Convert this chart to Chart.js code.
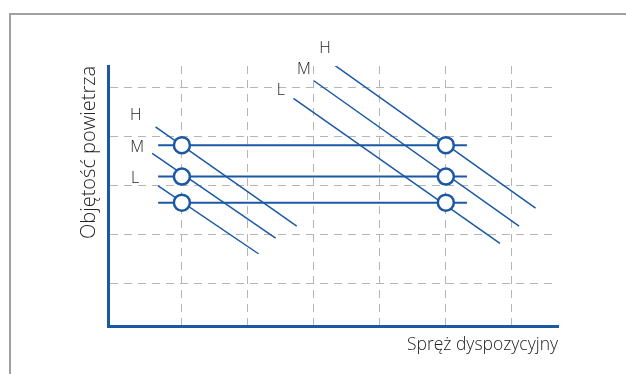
<!DOCTYPE html>
<html lang="pl">
<head>
<meta charset="utf-8">
<title>Objętość powietrza / Spręż dyspozycyjny</title>
<script src="https://cdn.jsdelivr.net/npm/chart.js@4.4.1/dist/chart.umd.min.js"></script>
<style>
    body { margin: 0; background: #fff; overflow: hidden; }
    #wrap { position: relative; width: 626px; height: 374px; }
    #ramka {
        position: absolute; left: 9px; top: 13px; width: 700px; height: 400px;
        border-top: 2px solid #a0a0a0; border-left: 2px solid #a0a0a0;
    }
    #wykres { position: absolute; left: 0; top: 0; }
</style>
</head>
<body>
<div id="wrap">
    <div id="ramka"></div>
    <canvas id="wykres" width="626" height="374"></canvas>
</div>
<script>
// dane schematu (jednostki = oczka siatki)
const siatkaX = [1, 2, 3, 4, 5, 6];
const siatkaY = [1, 2, 3, 4, 5];

// poziome linie z punktami pracy
const poziomyY = [3.82, 3.18, 2.65];
const poziomyOd = 0.64;
const poziomyDo = 5.32;
const punktyX = [1, 5];

// charakterystyki H / M / L  [x1, y1, x2, y2]
const skosyLewe = [
    [0.60, 4.19, 2.74, 2.17],
    [0.55, 3.65, 2.42, 1.93],
    [0.64, 2.99, 2.16, 1.61]
];
const skosyPrawe = [
    [3.30, 5.46, 6.36, 2.54],
    [3.00, 5.13, 6.11, 2.17],
    [2.69, 4.77, 5.82, 1.82]
];

// opisy krzywych
const etykiety = ['H', 'M', 'L'];
const etykietyLewe = [[0.30, 4.43], [0.32, 3.78], [0.29, 3.14]];
const etykietyPrawe = [[3.17, 5.78], [2.85, 5.35], [2.50, 4.94]];

const NIEBIESKI = '#1a58a6';
const FONT = '"Open Sans", Lato, sans-serif';
const datasets = [];

poziomyY.forEach(y => {
    datasets.push({
        data: [{ x: poziomyOd, y: y }, { x: poziomyDo, y: y }],
        borderColor: NIEBIESKI, borderWidth: 2, pointRadius: 0, showLine: true, order: 2
    });
    datasets.push({
        data: punktyX.map(x => ({ x: x, y: y })),
        borderColor: NIEBIESKI, backgroundColor: '#fff', borderWidth: 2.5,
        pointRadius: 8, showLine: false, order: 0
    });
});

skosyLewe.concat(skosyPrawe).forEach(s => {
    datasets.push({
        data: [{ x: s[0], y: s[1] }, { x: s[2], y: s[3] }],
        borderColor: NIEBIESKI, borderWidth: 1.5, pointRadius: 0, showLine: true, order: 1
    });
});

const opisyPlugin = {
    id: 'opisy',
    afterDatasetsDraw(chart) {
        const ctx = chart.ctx;
        const sx = chart.scales.x, sy = chart.scales.y;
        ctx.save();
        ctx.font = '300 16px ' + FONT;
        ctx.fillStyle = '#222';
        ctx.textAlign = 'center';
        ctx.textBaseline = 'middle';
        [etykietyLewe, etykietyPrawe].forEach(grupa => {
            grupa.forEach((p, i) => {
                ctx.fillText(etykiety[i], sx.getPixelForValue(p[0]), sy.getPixelForValue(p[1]));
            });
        });
        ctx.restore();
    }
};

new Chart(document.getElementById('wykres'), {
    type: 'scatter',
    data: { datasets: datasets },
    options: {
        responsive: false,
        animation: false,
        layout: { padding: { left: 77, right: 68, top: 66, bottom: 18 } },
        plugins: { legend: { display: false }, tooltip: { enabled: false } },
        elements: { line: { tension: 0 } },
        scales: {
            x: {
                type: 'linear',
                min: -0.12,
                max: 6.7,
                afterBuildTicks: axis => { axis.ticks = siatkaX.map(v => ({ value: v })); },
                ticks: { display: false },
                grid: { color: '#b5b5b5', lineWidth: 1, drawTicks: false },
                border: { display: true, color: NIEBIESKI, width: 3, dash: [8, 6] },
                title: {
                    display: true, text: 'Spręż dyspozycyjny', align: 'end',
                    color: '#222', font: { family: FONT, size: 17.5, weight: 300 },
                    padding: { top: 9, bottom: 0 }
                }
            },
            y: {
                type: 'linear',
                min: 0.14,
                max: 5.43,
                afterBuildTicks: axis => { axis.ticks = siatkaY.map(v => ({ value: v })); },
                ticks: { display: false },
                grid: { color: '#b5b5b5', lineWidth: 1, drawTicks: false },
                border: { display: true, color: NIEBIESKI, width: 3, dash: [8, 6] },
                title: {
                    display: true, text: 'Objętość powietrza', align: 'end',
                    color: '#222', font: { family: FONT, size: 20, weight: 300 },
                    padding: { top: 0, bottom: 7 }
                }
            }
        }
    },
    plugins: [opisyPlugin]
});
</script>
</body>
</html>
